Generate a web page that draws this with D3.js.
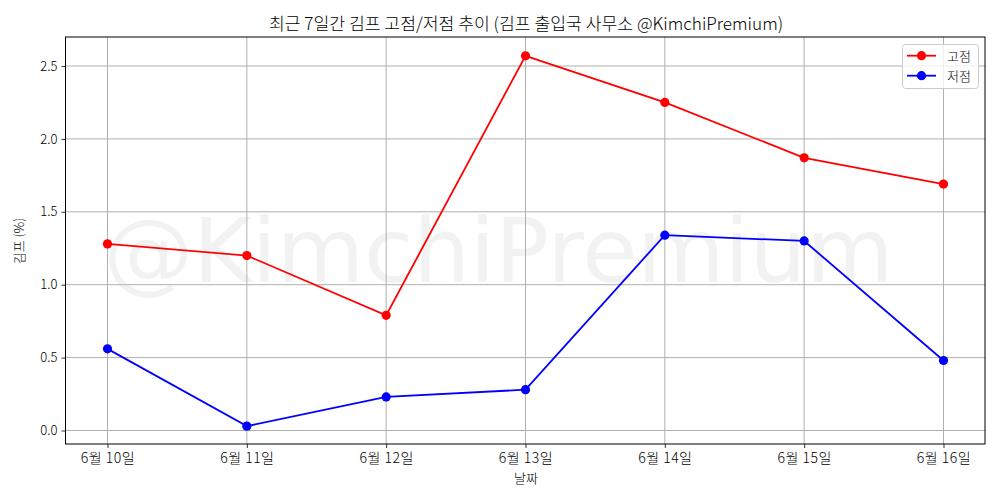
<!DOCTYPE html>
<html><head><meta charset="utf-8">
<script src="https://cdn.jsdelivr.net/npm/d3@7/dist/d3.min.js"></script>
<style>html,body{margin:0;background:#fff}svg{display:block}text{font-family:"Noto Sans CJK KR","Noto Sans",sans-serif;font-weight:300;fill:#000}</style>
</head><body><svg id="c" width="1000" height="500"></svg>
<script>
const categories=["6월 10일","6월 11일","6월 12일","6월 13일","6월 14일","6월 15일","6월 16일"];
const highValues=[1.28,1.20,0.79,2.57,2.25,1.87,1.69];
const lowValues=[0.56,0.03,0.23,0.28,1.34,1.30,0.48];
const yTicks=[0,0.5,1,1.5,2,2.5];
const title="최근 7일간 김프 고점/저점 추이 (김프 출입국 사무소 @KimchiPremium)";
const xLabel="날짜",yLabel="김프 (%)",watermark="@KimchiPremium";
const seriesNames=["고점","저점"],seriesColors=["#ff0000","#0000ff"];

const L=65.5,R=985,T=37,B=444;
const svg=d3.select("#c");
const x=d3.scalePoint().domain(categories).range([107.5,943.5]);
const y=d3.scaleLinear().domain([0,2.5]).range([430.5,66]);

svg.append("text").attr("x",498.5).attr("y",282).attr("text-anchor","middle")
 .style("font-size","89.6px").style("fill","#808080").style("fill-opacity",0.1).style("font-family","'DejaVu Sans'").style("font-weight",400).text(watermark);

svg.append("g").selectAll("line").data(categories).join("line").attr("x1",d=>x(d)).attr("x2",d=>x(d)).attr("y1",T).attr("y2",B).attr("stroke","#b0b0b0").attr("stroke-width",1);
svg.append("g").selectAll("line").data(yTicks).join("line").attr("x1",L).attr("x2",R).attr("y1",d=>y(d)).attr("y2",d=>y(d)).attr("stroke","#b0b0b0").attr("stroke-width",1);

const gx=svg.append("g").attr("transform",`translate(0,${B})`).call(d3.axisBottom(x).tickSize(4).tickPadding(5));
const gy=svg.append("g").attr("transform",`translate(${L},0)`).call(d3.axisLeft(y).tickValues(yTicks).tickFormat(d3.format(".1f")).tickSize(4).tickPadding(4));
[gx,gy].forEach(g=>{g.select(".domain").remove();g.selectAll("text").style("fill","#000");g.selectAll("line").attr("stroke","#000").attr("stroke-width",0.8);});
gx.selectAll("text").style("font-size","14px").style("letter-spacing","0.5px");
gy.selectAll("text").style("font-size","13px");

const line=d3.line().x((d,i)=>x(categories[i])).y(d=>y(d));
[highValues,lowValues].forEach((vals,k)=>{
 svg.append("path").attr("d",line(vals)).attr("fill","none").attr("stroke",seriesColors[k]).attr("stroke-width",1.8);
 svg.append("g").selectAll("circle").data(vals).join("circle").attr("cx",(d,i)=>x(categories[i])).attr("cy",d=>y(d)).attr("r",4.6).attr("fill",seriesColors[k]);
});

svg.append("rect").attr("x",L).attr("y",T).attr("width",R-L).attr("height",B-T).attr("fill","none").attr("stroke","#000").attr("stroke-width",1);

svg.append("text").attr("x",526).attr("y",30).attr("text-anchor","middle").style("font-size","17.2px").text(title);
svg.append("text").attr("x",526).attr("y",483).attr("text-anchor","middle").style("font-size","13px").text(xLabel);
svg.append("text").attr("transform","translate(24,241) rotate(-90)").attr("text-anchor","middle").style("font-size","13px").text(yLabel);

const lg=svg.append("g");
lg.append("rect").attr("x",902.5).attr("y",44.5).attr("width",76).attr("height",44).attr("rx",3).attr("fill","#fff").attr("fill-opacity",0.8).attr("stroke","#ccc").attr("stroke-width",1);
seriesNames.forEach((n,k)=>{
 const yy=55.7+k*20;
 lg.append("line").attr("x1",907).attr("x2",936).attr("y1",yy).attr("y2",yy).attr("stroke",seriesColors[k]).attr("stroke-width",1.8);
 lg.append("circle").attr("cx",921.5).attr("cy",yy).attr("r",4.6).attr("fill",seriesColors[k]);
 lg.append("text").attr("x",947).attr("y",yy+5).style("font-size","13px").text(n);
});
</script></body></html>
